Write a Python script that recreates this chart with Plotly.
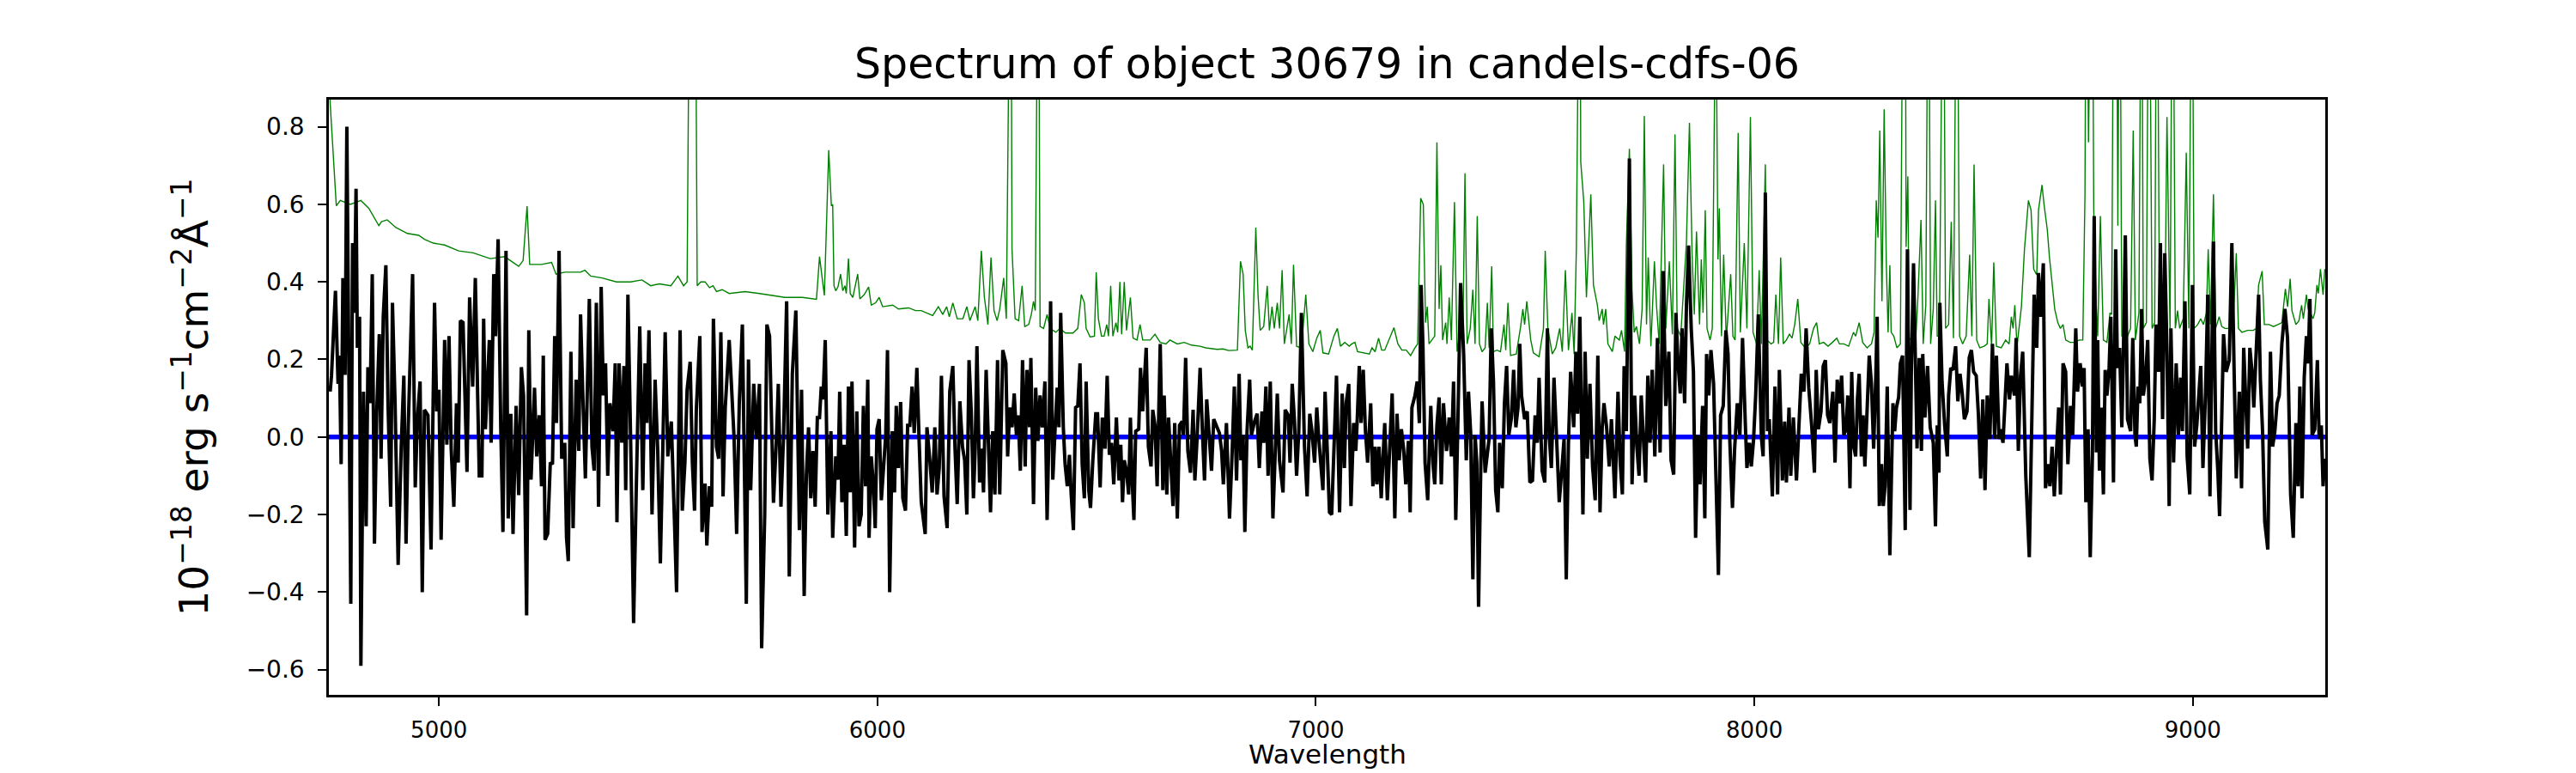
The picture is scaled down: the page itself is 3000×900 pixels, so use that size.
"""
Spectrum of object 30679 in candels-cdfs-06
plotting method: plotly
"""

import plotly.graph_objects as go

# ============================================================================
# DATA
# ============================================================================

# black: extracted 1D flux, 1e-18 erg/s/cm2/A
flux_wave = [
    4752, 4755, 4764, 4770, 4773, 4777, 4781, 4786, 4790, 4794, 4799, 4803, 4807, 4811, 4814, 4819,
    4822, 4828, 4834, 4838, 4843, 4848, 4853, 4858, 4864, 4868, 4873, 4879, 4884, 4890, 4894, 4900,
    4907, 4914, 4920, 4925, 4930, 4940, 4946, 4951, 4957, 4962, 4967, 4975, 4982, 4990, 4995, 5000,
    5005, 5013, 5018, 5023, 5028, 5034, 5040, 5044, 5049, 5055, 5064, 5070, 5077, 5083, 5088, 5092,
    5098, 5102, 5106, 5111, 5115, 5119, 5125, 5129, 5135, 5141, 5146, 5153, 5158, 5164, 5169, 5176,
    5182, 5188, 5193, 5200, 5205, 5210, 5218, 5223, 5229, 5234, 5238, 5242, 5248, 5254, 5259, 5264,
    5268, 5274, 5280, 5287, 5291, 5295, 5301, 5306, 5313, 5319, 5323,
    5329, 5334, 5343, 5349, 5354, 5359, 5364, 5370, 5375, 5380, 5385, 5390, 5397, 5402, 5406, 5411,
    5417, 5422, 5426, 5431, 5437, 5444, 5450, 5458, 5465, 5470, 5474, 5479, 5486, 5493, 5499, 5505,
    5510, 5516, 5522, 5530, 5537, 5542, 5550, 5555, 5561, 5566, 5573, 5578, 5583, 5587, 5595, 5600,
    5607, 5611, 5617, 5622, 5626, 5633, 5638, 5643, 5648, 5653, 5662, 5669, 5673, 5679, 5685, 5692,
    5697, 5701, 5706, 5711, 5718, 5724, 5731, 5736, 5743, 5748, 5754, 5758, 5763, 5770, 5774, 5780,
    5786, 5793, 5799, 5806, 5814, 5822, 5827, 5833, 5838, 5843, 5848, 5853, 5858, 5863, 5868, 5872,
    5876, 5881, 5887, 5894,
    5898, 5905, 5910, 5914, 5919, 5924, 5929, 5934, 5938, 5942, 5948, 5953, 5958, 5963, 5968, 5973,
    5978, 5981, 5986, 5991, 5995, 5999, 6004, 6009, 6014, 6019, 6023, 6028, 6034, 6039, 6043, 6048,
    6053, 6058, 6064, 6069, 6074, 6079, 6084, 6090, 6095, 6100, 6109, 6113, 6120, 6125, 6131, 6136,
    6141, 6146, 6152, 6159, 6165, 6172, 6177, 6182, 6188, 6194, 6199, 6204, 6209, 6214, 6219, 6223,
    6227, 6233, 6237, 6242, 6248, 6253, 6258, 6263, 6268, 6274, 6279, 6286, 6293, 6297, 6302, 6307,
    6312, 6317, 6321, 6326, 6331, 6337, 6341, 6347, 6350, 6356, 6361, 6366, 6371, 6376, 6382, 6387,
    6392, 6395, 6400, 6405, 6410, 6414, 6418, 6424, 6428, 6433, 6438, 6442, 6447, 6452, 6457, 6462,
    6467, 6472,
    6476, 6482, 6486, 6491, 6498, 6502, 6508, 6513, 6519, 6524, 6529, 6534, 6539, 6545, 6551, 6555,
    6559, 6563, 6568, 6573, 6577, 6581, 6585, 6589, 6596, 6600, 6605, 6613, 6618, 6624, 6628, 6633,
    6638, 6645, 6651, 6654, 6660, 6664, 6669, 6674, 6678, 6684, 6689, 6695, 6698, 6703, 6708, 6714,
    6720, 6724, 6729, 6736, 6741, 6746, 6751, 6757, 6762, 6767, 6774, 6780, 6785, 6789, 6796, 6803,
    6809, 6814, 6819, 6825, 6829, 6834, 6838, 6843, 6849, 6853, 6860, 6866, 6871, 6877, 6881, 6886,
    6891, 6896, 6902, 6907, 6912, 6917, 6925, 6930, 6937, 6941, 6946, 6951, 6956, 6961, 6967, 6974,
    6980, 6986, 6991, 6997, 7002, 7006, 7011, 7016, 7021, 7027, 7031, 7036, 7042, 7047,
    7054, 7060, 7065, 7069, 7075, 7080, 7086, 7091, 7094, 7099, 7103, 7108, 7113, 7118, 7125, 7130,
    7135, 7139, 7144, 7149, 7153, 7157, 7163, 7167, 7174, 7180, 7185, 7190, 7195, 7200, 7205, 7211,
    7215, 7219, 7226, 7231, 7236, 7240, 7244, 7249, 7255, 7262, 7267, 7271, 7276, 7281, 7286, 7291,
    7298, 7304, 7309, 7314, 7319, 7324, 7330, 7337, 7343, 7348, 7353, 7358, 7363, 7367, 7371, 7376,
    7379, 7386, 7395, 7400, 7405, 7410, 7415, 7419, 7425, 7430, 7435, 7440, 7446, 7451, 7456, 7461,
    7465, 7469, 7476, 7482, 7488, 7494, 7500, 7505, 7509, 7516, 7522, 7528, 7532, 7537, 7543, 7549,
    7555, 7560, 7566, 7571, 7576, 7581, 7588, 7593, 7597, 7602, 7609, 7614, 7619, 7625,
    7631, 7637, 7643, 7648, 7653, 7657, 7663, 7669, 7674, 7682, 7689, 7694, 7699, 7703, 7708, 7715,
    7721, 7727, 7732, 7737, 7742, 7747, 7752, 7757, 7762, 7767, 7773, 7779, 7785, 7792, 7798, 7805,
    7810, 7816, 7821, 7826, 7831, 7835, 7841, 7845, 7850, 7856, 7861, 7866, 7871, 7876, 7882, 7887,
    7891, 7896, 7901, 7907, 7912, 7918, 7923, 7929, 7935, 7940, 7944, 7950, 7955, 7961, 7967, 7973,
    7979, 7983, 7989, 7993, 7998, 8003, 8009, 8016, 8020, 8025, 8030, 8034, 8041, 8047, 8053, 8057,
    8064, 8069, 8073, 8079, 8083, 8089, 8096, 8101, 8107, 8113, 8118, 8124, 8131, 8137, 8141, 8146,
    8152, 8157, 8162, 8167, 8172, 8179, 8184, 8189, 8194, 8199, 8204,
    8209, 8213, 8218, 8222, 8226, 8231, 8235, 8239, 8244, 8248, 8252, 8257, 8262, 8267, 8272, 8277,
    8280, 8285, 8290, 8294, 8298, 8303, 8309, 8316, 8320, 8324, 8329, 8333, 8338, 8344, 8349, 8355,
    8358, 8363, 8368, 8371, 8376, 8381, 8384, 8389, 8395, 8401, 8408, 8413, 8417, 8421, 8423, 8428,
    8434, 8440, 8443, 8448, 8453, 8459, 8464, 8469, 8474, 8479, 8485, 8490, 8495, 8500, 8506, 8511,
    8516, 8521, 8526, 8531, 8537, 8543, 8548, 8552, 8558, 8562, 8567, 8572, 8576, 8582, 8586, 8593,
    8597, 8602, 8607, 8612, 8619, 8627, 8633, 8638, 8644, 8648, 8653, 8659, 8664, 8670, 8674, 8679,
    8684, 8689, 8694, 8698, 8704, 8710, 8715, 8721, 8726, 8733, 8737, 8743, 8748, 8752, 8756, 8761,
    8766, 8771, 8775, 8780,
    8783, 8787, 8791, 8796, 8800, 8804, 8809, 8813, 8819, 8824, 8828, 8833, 8838, 8841, 8846, 8851,
    8858, 8863, 8868, 8871, 8875, 8879, 8883, 8887, 8892, 8897, 8902, 8907, 8912, 8916, 8922, 8926,
    8931, 8936, 8941, 8946, 8950, 8956, 8962, 8967, 8972, 8976, 8982, 8987, 8993, 8999, 9004, 9009,
    9018, 9023, 9029, 9034, 9039, 9047, 9052, 9057, 9061, 9070, 9076, 9083, 9089, 9094, 9099, 9106,
    9111, 9116, 9120, 9125, 9130, 9135, 9139, 9145, 9150, 9154, 9159, 9164, 9171, 9177, 9182, 9187,
    9192, 9197, 9203, 9210, 9216, 9223, 9229, 9235, 9240, 9244, 9249, 9254, 9259, 9263, 9267, 9272,
    9278, 9284, 9288, 9293, 9297, 9301,
]
flux = [
    0.117, 0.158, 0.377, 0.137, 0.21, -0.07, 0.41, 0.16, 0.80, 0.32, -0.43, 0.50, 0.32, 0.64, 0.23, 0.31,
    -0.59, 0.117, -0.23, 0.18, 0.087, 0.42, -0.275, 0.056, 0.265, -0.056, 0.31, 0.443, 0.08, -0.18, 0.346, 0.087,
    -0.33, -0.025, 0.158, -0.275, 0.025, 0.42, -0.13, 0.046, 0.143, -0.40, 0.07, 0.056, -0.29, 0.346, 0.066, 0.122,
    -0.265, 0.25, -0.02, 0.26, -0.03, -0.18, 0.087, -0.066, 0.30, 0.295, -0.09, 0.36, 0.13, 0.41, 0.076, -0.10,
    -0.10, 0.305, 0.02, 0.163, 0.25, -0.015, 0.42, 0.26, 0.51, 0.025, -0.245, 0.48, -0.21, 0.06, -0.25, 0.08,
    -0.15, 0.18, 0.107, -0.46, 0.275, -0.11, 0.127, -0.05, 0.056, -0.127, 0.21, -0.265, -0.25, -0.066, -0.07, 0.26,
    0.036, 0.48, -0.056, -0.015, -0.26, -0.32, 0.22, -0.235, 0.148, -0.036, 0.316,
    0.076, -0.107, 0.356, -0.025, -0.087, 0.346, -0.18, 0.387, 0.107, 0.19, -0.10, 0.087, 0.015, 0.19, -0.22, 0.19,
    -0.015, 0.183, -0.137, 0.367, 0.005, -0.48, -0.137, 0.285, -0.137, 0.19, 0.036, 0.275, -0.2, 0.148, -0.036, -0.326,
    -0.06, 0.27, -0.05, 0.04, -0.21, -0.40, 0.275, -0.19, -0.066, 0.122, 0.194, -0.066, -0.19, 0.07, 0.26, -0.245,
    -0.12, -0.28, -0.127, -0.18, 0.305, -0.025, -0.056, 0.27, -0.153, 0.076, 0.25, 0.107, 0.0, -0.25, 0.087, 0.29,
    -0.046, -0.43, 0.2, -0.137, 0.137, -0.005, 0.137, -0.545, -0.2, 0.29, 0.26, 0.03, -0.17, 0.005, 0.137, -0.18,
    0.005, 0.35, -0.36, 0.163, 0.326, -0.24, 0.122, -0.41, -0.097, 0.025, -0.158, -0.036, -0.18, 0.05, 0.05, 0.13,
    0.097, 0.25, -0.2, 0.015,
    -0.26, -0.05, -0.11, 0.117, -0.168, -0.02, -0.255, 0.13, -0.143, 0.143, -0.285, 0.066, -0.23, -0.2, 0.08, -0.127,
    0.148, -0.26, -0.05, -0.127, -0.235, 0.02, 0.046, -0.163, -0.07, 0.005, 0.224, -0.40, 0.015, -0.143, 0.08, -0.08,
    0.09, -0.158, -0.19, 0.03, 0.03, 0.13, 0.01, 0.178, -0.005, -0.168, -0.25, 0.025, -0.066, -0.143, 0.025, -0.148,
    -0.08, 0.158, -0.153, -0.235, 0.117, 0.183, -0.03, -0.173, 0.092, -0.025, -0.06, -0.2, 0.198, 0.066, -0.158, -0.03,
    0.234, -0.117, -0.03, -0.143, 0.173, -0.025, -0.194, 0.015, -0.148, 0.198, -0.148, 0.224, 0.19, -0.05, 0.076, 0.025,
    0.112, 0.005, 0.056, -0.087, 0.198, -0.076, 0.173, 0.025, 0.204, -0.173, 0.127, -0.01, 0.107, 0.025, 0.143, -0.214,
    0.05, 0.35, -0.11, 0.015, 0.127, 0.025, 0.32, 0.025, -0.07, -0.127, -0.046, -0.148, -0.24, 0.076, 0.08, 0.19,
    -0.07, -0.158,
    0.143, -0.137, -0.183, -0.066, 0.06, 0.06, -0.13, 0.05, -0.03, 0.158, -0.046, -0.015, -0.122, 0.05, -0.112, -0.02,
    -0.168, -0.06, -0.087, -0.148, 0.05, -0.112, -0.214, 0.015, 0.02, 0.178, 0.066, 0.23, -0.025, -0.076, 0.07, 0.03,
    -0.127, 0.24, -0.137, 0.107, -0.148, 0.05, -0.076, -0.178, 0.036, -0.21, 0.03, 0.04, 0.005, 0.204, -0.036, -0.092,
    0.07, -0.112, -0.005, 0.178, 0.02, -0.112, 0.097, -0.015, -0.087, 0.046, 0.025, 0.01, -0.036, -0.122, 0.036, -0.21,
    -0.04, 0.13, -0.112, 0.163, -0.06, 0.005, -0.245, 0.015, 0.148, 0.005, 0.04, 0.06, -0.08, 0.066, -0.015, 0.13,
    -0.1, 0.143, -0.21, -0.025, 0.112, -0.06, -0.143, 0.07, 0.056, -0.066, 0.137, 0.046, -0.1, 0.015, 0.32, -0.025,
    -0.153, 0.06, 0.015, -0.066, 0.076, 0.005, -0.08, -0.137, 0.117, -0.07, -0.194, -0.2, 0.005, 0.158,
    -0.194, 0.112, -0.08, 0.087, 0.137, -0.178, 0.036, -0.036, 0.036, 0.183, 0.036, 0.173, 0.015, -0.066, 0.087, -0.127,
    -0.025, -0.122, -0.025, -0.158, -0.056, 0.036, -0.163, -0.046, 0.112, -0.21, 0.06, -0.06, 0.02, -0.03, -0.122, -0.01,
    -0.194, 0.076, 0.107, 0.143, 0.036, 0.392, 0.24, -0.066, -0.163, 0.08, -0.07, -0.122, 0.03, 0.102, -0.122, 0.087,
    -0.036, 0.05, -0.05, 0.143, -0.214, 0.046, 0.397, 0.214, -0.06, 0.117, 0.01, -0.367, 0.005, -0.066, -0.438, -0.08,
    0.092, -0.092, -0.005, 0.28, 0.143, -0.137, -0.194, -0.015, -0.132, 0.087, 0.183, 0.005, 0.05, 0.173, 0.025, 0.076,
    0.24, 0.107, 0.046, 0.066, -0.117, -0.112, 0.056, -0.015, 0.153, -0.087, -0.117, 0.28, 0.005, -0.08, 0.153, -0.005,
    -0.168, -0.097, -0.005, -0.367, -0.015, 0.168, 0.025, 0.22, 0.06, 0.31, -0.2, 0.22, -0.056, 0.137,
    -0.076, -0.163, 0.21, -0.194, 0.025, 0.087, 0.025, -0.076, 0.046, -0.158, 0.117, -0.066, -0.148, 0.183, 0.015, 0.718,
    -0.122, 0.107, -0.025, -0.10, 0.107, -0.005, -0.117, 0.158, -0.015, 0.173, -0.05, 0.255, -0.04, 0.428, 0.08, 0.22,
    -0.06, -0.097, 0.32, 0.19, 0.112, 0.28, 0.087, 0.336, 0.494, 0.28, 0.168, -0.26, 0.005, -0.122, 0.08, -0.21,
    0.214, 0.107, 0.224, 0.137, -0.066, -0.356, 0.056, 0.08, 0.275, 0.214, -0.01, -0.183, -0.03, 0.087, 0.005, 0.255,
    0.046, -0.08, -0.015, -0.076, -0.01, 0.107, 0.316, 0.0, -0.05, 0.63, 0.015, 0.046, -0.153, 0.13, -0.148, 0.173,
    -0.112, 0.04, -0.117, 0.076, -0.1, 0.05, -0.112, 0.005, 0.163, 0.117, 0.28, 0.127, 0.025, -0.092, 0.173, 0.02,
    0.066, 0.183, 0.198, 0.056, 0.036, 0.117, -0.066, 0.148, 0.087, 0.158, 0.005,
    0.02, 0.107, -0.132, 0.168, -0.02, -0.05, 0.097, 0.163, -0.05, 0.056, -0.076, 0.087, 0.21, 0.137, -0.03, 0.158,
    0.31, -0.178, -0.07, -0.178, -0.127, 0.13, -0.305, 0.087, 0.015, 0.076, 0.102, 0.19, 0.21, -0.24, 0.484, -0.188,
    0.168, 0.448, 0.076, -0.03, 0.204, -0.036, 0.214, 0.05, 0.183, 0.025, -0.015, -0.23, 0.03, -0.092, 0.346, 0.143,
    0.03, -0.05, 0.107, 0.178, 0.173, 0.234, 0.092, 0.163, 0.112, 0.046, 0.066, 0.204, 0.224, 0.168, 0.158, 0.056,
    -0.107, 0.097, -0.137, 0.107, -0.005, 0.24, -0.005, 0.21, -0.005, 0.02, -0.015, 0.117, 0.19, 0.097, 0.158, 0.107,
    0.255, -0.036, 0.158, 0.22, -0.10, -0.31, 0.076, 0.367, 0.23, 0.423, 0.31, 0.448, -0.132, -0.07, -0.127, -0.025,
    -0.153, -0.056, 0.076, -0.148, 0.19, 0.168, -0.07, 0.08, 0.005, 0.28, 0.117, 0.19, 0.13, 0.178, -0.168, 0.02,
    -0.31, -0.046, 0.57, -0.04,
    0.25, -0.087, 0.076, -0.148, 0.173, 0.107, 0.178, 0.31, -0.117, 0.484, 0.178, 0.23, 0.025, 0.178, 0.52, 0.046,
    0.015, 0.255, 0.005, -0.025, 0.13, 0.087, 0.33, 0.107, 0.148, 0.25, -0.056, -0.112, 0.046, 0.29, 0.168, 0.50,
    0.046, 0.474, 0.22, -0.178, 0.28, -0.066, 0.19, 0.005, 0.153, 0.015, 0.35, -0.05, -0.148, 0.392, -0.025, 0.03,
    0.183, -0.08, 0.117, 0.367, -0.153, 0.504, 0.015, -0.087, -0.204, 0.265, 0.168, 0.198, 0.50, 0.178, -0.107, 0.117,
    -0.132, 0.23, 0.107, -0.03, 0.23, 0.168, 0.076, 0.24, 0.367, 0.148, 0.015, -0.219, -0.29, 0.22, -0.025, 0.015,
    0.087, 0.107, 0.24, 0.33, 0.255, -0.148, -0.26, 0.036, -0.127, 0.13, -0.158, 0.153, 0.26, 0.19, 0.356, 0.005,
    0.02, 0.198, -0.005, 0.03, -0.127, -0.056,
]

# green: noise spectrum (sky lines run off the top of the frame)
noise_wave = [
    4749, 4752, 4766, 4775, 4798, 4822, 4840, 4856, 4863, 4869, 4882, 4902, 4928, 4954, 4967, 4987,
    5013, 5045, 5078, 5117, 5150, 5182, 5192, 5201, 5207, 5234, 5257, 5267, 5287, 5323,
    5333, 5346, 5372, 5405, 5437, 5463, 5483, 5503, 5529, 5545, 5558, 5566, 5573, 5584, 5589, 5597,
    5607, 5617, 5625, 5633, 5646, 5662, 5698, 5731, 5763, 5789, 5829, 5861, 5868, 5879, 5889,
    5895, 5898, 5901, 5905, 5910, 5916, 5921, 5926, 5929, 5934, 5938, 5944, 5948, 5955, 5960, 5970,
    5980, 5986, 5996, 6004, 6012, 6035, 6048, 6071, 6087, 6100, 6126, 6139, 6149, 6158, 6164, 6172,
    6182, 6195, 6204, 6211, 6223, 6229, 6237, 6244, 6252, 6259, 6266, 6273, 6279, 6288, 6294, 6297,
    6304, 6307, 6314, 6322, 6330, 6336, 6345, 6351, 6356, 6360, 6362, 6367, 6371, 6379, 6387, 6394,
    6407, 6416, 6429, 6446, 6457, 6465, 6472,
    6476, 6485, 6495, 6499, 6504, 6511, 6517, 6523, 6527, 6532, 6537, 6544, 6548, 6553, 6557, 6563,
    6568, 6577, 6583, 6592, 6599, 6605, 6622, 6633, 6645, 6658, 6667, 6684, 6700, 6716, 6736, 6749,
    6775, 6788, 6801, 6821, 6828, 6834, 6839, 6845, 6850, 6855, 6863, 6868, 6873, 6881, 6889, 6894,
    6900, 6905, 6912, 6917, 6923, 6928, 6933, 6939, 6944, 6949, 6956, 6967, 6977, 6984, 6993, 7002,
    7010, 7016, 7029, 7041, 7049,
    7056, 7066, 7076, 7082, 7089, 7095, 7108, 7122, 7128, 7135, 7143, 7150, 7157, 7167, 7178, 7187,
    7196, 7206, 7216, 7226, 7232, 7239, 7245, 7250, 7254, 7258, 7267, 7271, 7276, 7281, 7285, 7289,
    7296, 7299, 7304, 7309, 7316, 7322, 7330, 7335, 7340, 7345, 7352, 7358, 7363, 7368, 7373, 7379,
    7386, 7391, 7395, 7401, 7405, 7413, 7421, 7429, 7433, 7438, 7444, 7457, 7467, 7472, 7476, 7481,
    7490, 7496, 7509, 7519, 7523, 7529, 7539, 7547, 7556, 7562, 7569, 7576, 7584, 7589, 7594, 7597,
    7602, 7604, 7611, 7617,
    7627, 7633, 7642, 7646, 7653, 7656, 7661, 7666, 7676, 7682, 7692, 7697, 7704, 7708, 7715, 7721,
    7726, 7731, 7738, 7744, 7749, 7754, 7758, 7764, 7772, 7777, 7783, 7793, 7798, 7806, 7813, 7819,
    7824, 7832, 7840, 7845, 7852, 7858, 7863, 7868, 7875, 7879, 7883, 7888, 7892, 7899, 7904, 7912,
    7917, 7920, 7925, 7930, 7936, 7946, 7951, 7956, 7963, 7968, 7977, 7983, 7991, 7997, 8005, 8011,
    8016, 8025, 8029, 8038, 8044, 8049, 8055, 8060, 8066, 8073, 8080, 8086, 8092, 8099, 8106, 8116,
    8126, 8135, 8142, 8148, 8158, 8168, 8178, 8188, 8194, 8204,
    8215, 8226, 8231, 8239, 8247, 8257, 8267, 8273, 8278, 8282, 8286, 8291, 8296, 8301, 8305, 8309,
    8312, 8318, 8325, 8333, 8340, 8344, 8346, 8350, 8353, 8361, 8368, 8373, 8380, 8385, 8391, 8397,
    8402, 8408, 8413, 8417, 8422, 8427, 8431, 8436, 8443, 8449, 8454, 8462, 8468, 8475, 8483, 8491,
    8496, 8501, 8507, 8514, 8524, 8531, 8535, 8541, 8546, 8552, 8563, 8573, 8581, 8586, 8590, 8594,
    8599, 8609, 8616, 8625, 8631, 8637, 8644, 8648, 8656, 8661, 8668, 8673, 8679, 8685, 8692, 8698,
    8704, 8710, 8720, 8730, 8741, 8749, 8754, 8757, 8762, 8765, 8770, 8774, 8779,
    8783, 8789, 8796, 8804, 8811, 8815, 8820, 8825, 8829, 8833, 8838, 8845, 8851, 8858, 8864, 8869,
    8877, 8883, 8887, 8894, 8900, 8907, 8913, 8918, 8924, 8931, 8936, 8941, 8948, 8954, 8960, 8965,
    8970, 8978, 8985, 8991, 8998, 9003, 9011, 9018, 9024, 9031, 9035, 9040, 9047, 9052, 9060, 9066,
    9073, 9085, 9092, 9099, 9104, 9112, 9125, 9138, 9145, 9150, 9158, 9163, 9174, 9184, 9194, 9203,
    9211, 9216, 9222, 9226, 9235, 9242, 9248, 9252, 9259, 9263, 9268, 9274, 9278, 9283, 9286, 9291,
    9297, 9301,
]
noise = [
    1.0, 0.86, 0.596, 0.61, 0.60, 0.61, 0.59, 0.56, 0.545, 0.555, 0.56, 0.54, 0.525, 0.52, 0.51, 0.50,
    0.495, 0.48, 0.475, 0.46, 0.465, 0.44, 0.455, 0.595, 0.445, 0.445, 0.45, 0.42, 0.425, 0.425,
    0.43, 0.415, 0.41, 0.40, 0.40, 0.405, 0.39, 0.395, 0.39, 0.415, 0.39, 0.40, 1.5, 1.5, 0.39, 0.40,
    0.40, 0.385, 0.39, 0.375, 0.38, 0.37, 0.375, 0.37, 0.365, 0.36, 0.36, 0.355, 0.465, 0.365, 0.74,
    0.596, 0.60, 0.39, 0.377, 0.387, 0.42, 0.377, 0.39, 0.37, 0.46, 0.37, 0.36, 0.38, 0.42, 0.356, 0.367,
    0.387, 0.34, 0.346, 0.36, 0.336, 0.34, 0.33, 0.333, 0.326, 0.326, 0.313, 0.336, 0.316, 0.336, 0.31, 0.346,
    0.305, 0.305, 0.336, 0.30, 0.336, 0.30, 0.48, 0.36, 0.29, 0.463, 0.326, 0.30, 0.33, 0.41, 0.305, 1.5,
    1.5, 0.484, 0.305, 0.30, 0.39, 0.285, 0.29, 0.316, 0.35, 0.326, 1.5, 1.5, 0.285, 0.28, 0.316, 0.28,
    0.27, 0.28, 0.268, 0.268, 0.28, 0.367, 0.346,
    0.28, 0.258, 0.26, 0.425, 0.305, 0.26, 0.26, 0.29, 0.26, 0.39, 0.26, 0.295, 0.27, 0.40, 0.265, 0.40,
    0.275, 0.36, 0.255, 0.25, 0.29, 0.25, 0.25, 0.265, 0.244, 0.24, 0.25, 0.24, 0.244, 0.237, 0.234, 0.23,
    0.226, 0.227, 0.223, 0.224, 0.453, 0.42, 0.275, 0.23, 0.234, 0.224, 0.54, 0.367, 0.275, 0.285, 0.39, 0.275,
    0.336, 0.28, 0.346, 0.28, 0.43, 0.24, 0.275, 0.316, 0.24, 0.444, 0.234, 0.23, 0.367, 0.24, 0.22, 0.255,
    0.275, 0.217, 0.214, 0.26, 0.28,
    0.234, 0.244, 0.234, 0.24, 0.244, 0.22, 0.217, 0.214, 0.23, 0.22, 0.255, 0.224, 0.224, 0.25, 0.282, 0.24,
    0.224, 0.224, 0.21, 0.23, 0.24, 0.616, 0.60, 0.295, 0.336, 0.24, 0.255, 0.26, 0.76, 0.33, 0.443, 0.25,
    0.295, 0.24, 0.36, 0.25, 0.606, 0.22, 0.28, 0.24, 0.68, 0.24, 0.28, 0.38, 0.24, 0.57, 0.24, 0.22,
    0.23, 0.346, 0.23, 0.44, 0.22, 0.224, 0.22, 0.29, 0.224, 0.346, 0.21, 0.214, 0.285, 0.33, 0.29, 0.35,
    0.25, 0.217, 0.207, 0.28, 0.48, 0.28, 0.214, 0.23, 0.28, 0.22, 0.43, 0.224, 0.32, 0.214, 0.484, 1.5,
    1.5, 0.71, 0.606, 0.36,
    0.626, 0.392, 0.34, 0.30, 0.33, 0.29, 0.33, 0.24, 0.22, 0.26, 0.25, 0.275, 0.22, 0.494, 0.743, 0.38,
    0.27, 0.285, 0.24, 0.33, 0.828, 0.29, 0.463, 0.234, 0.453, 0.336, 0.24, 0.703, 0.28, 0.453, 0.265, 0.78,
    0.28, 0.26, 0.42, 0.50, 0.81, 0.47, 0.316, 0.53, 0.29, 0.458, 0.32, 0.585, 0.28, 0.25, 0.28, 1.2,
    0.458, 0.59, 0.26, 0.47, 0.25, 0.42, 0.26, 0.25, 0.784, 0.27, 0.50, 0.28, 0.825, 0.27, 0.24, 0.43,
    0.24, 0.703, 0.25, 0.24, 0.244, 0.367, 0.24, 0.463, 0.24, 0.25, 0.265, 0.255, 0.29, 0.356, 0.244, 0.23,
    0.24, 0.28, 0.295, 0.24, 0.244, 0.234, 0.244, 0.255, 0.24, 0.24,
    0.234, 0.27, 0.26, 0.295, 0.244, 0.23, 0.24, 0.27, 0.61, 0.514, 0.79, 0.35, 0.845, 0.443, 0.27, 0.443,
    0.27, 0.26, 0.23, 0.24, 1.5, 1.5, 0.49, 0.672, 0.25, 0.26, 0.25, 0.36, 0.56, 0.24, 0.34, 1.5,
    0.24, 0.33, 0.61, 0.26, 0.26, 1.5, 1.5, 0.28, 0.29, 0.555, 0.255, 1.5, 0.26, 0.24, 0.26, 0.47,
    0.26, 0.703, 0.25, 0.23, 0.234, 0.24, 0.356, 0.234, 0.45, 0.234, 0.23, 0.25, 0.24, 0.31, 0.28, 0.34,
    0.234, 0.336, 0.484, 0.61, 0.585, 0.433, 0.418, 0.585, 0.65, 0.596, 0.535, 0.463, 0.392, 0.33, 0.295, 0.28,
    0.29, 0.25, 0.244, 0.244, 0.25, 0.25, 0.626, 1.5, 0.76, 1.5, 1.5, 0.585, 0.36,
    0.26, 0.57, 0.25, 0.244, 0.32, 0.316, 1.5, 1.5, 0.545, 1.5, 0.26, 0.265, 0.26, 0.28, 0.79, 0.25,
    0.32, 1.5, 0.28, 0.295, 1.5, 0.28, 0.295, 1.5, 0.29, 0.30, 0.285, 0.825, 0.27, 1.5, 0.28, 0.326,
    0.28, 0.305, 0.733, 0.28, 1.5, 0.28, 0.29, 0.305, 0.29, 0.32, 0.484, 0.29, 0.626, 0.28, 0.31, 0.285,
    0.28, 0.28, 0.29, 0.474, 0.28, 0.27, 0.275, 0.275, 0.28, 0.392, 0.428, 0.29, 0.29, 0.285, 0.29, 0.295,
    0.382, 0.336, 0.408, 0.326, 0.29, 0.30, 0.34, 0.305, 0.367, 0.33, 0.32, 0.305, 0.32, 0.392, 0.37, 0.433,
    0.367, 0.433,
]

# blue: zero level across the whole wavelength range
zero_wave = [4749, 9302]
zero_level = [0.0, 0.0]

x_tickvals = [5000, 6000, 7000, 8000, 9000]
x_ticktext = ["5000", "6000", "7000", "8000", "9000"]
y_tickvals = [-0.6, -0.4, -0.2, 0.0, 0.2, 0.4, 0.6, 0.8]
y_ticktext = ["\u22120.6", "\u22120.4", "\u22120.2", "0.0", "0.2", "0.4", "0.6", "0.8"]

title_text = "Spectrum of object 30679 in candels-cdfs-06"
xlabel_text = "Wavelength"
ylabel_text = ("10<sup>\u221218</sup> erg s<sup>\u22121</sup>cm<sup>\u22122</sup>"
               "\u00c5<sup>\u22121</sup>")


def make_figure():
    fig = go.Figure()

    # zero line first so the spectra sit on top of it
    fig.add_trace(go.Scatter(x=zero_wave, y=zero_level, mode='lines',
                             line=dict(color='#0000ff', width=5.5), hoverinfo='skip'))
    fig.add_trace(go.Scatter(x=noise_wave, y=noise, mode='lines',
                             line=dict(color='#008000', width=1.4), name='noise'))
    fig.add_trace(go.Scatter(x=flux_wave, y=flux, mode='lines',
                             line=dict(color='#000000', width=4), name='flux'))

    axis_style = dict(showgrid=False, zeroline=False, showline=True, mirror=True,
                      linecolor='black', linewidth=2.5, ticks='outside', ticklen=10,
                      tickwidth=2.2, tickcolor='black')

    fig.update_xaxes(range=[4749, 9302], tickvals=x_tickvals, ticktext=x_ticktext,
                     tickfont=dict(size=26, color='black'), ticklabelstandoff=6, **axis_style)
    fig.update_yaxes(range=[-0.665, 0.870], tickvals=y_tickvals, ticktext=y_ticktext,
                     tickfont=dict(size=28, color='black'), ticklabelstandoff=10, **axis_style)

    # axis labels as annotations (matplotlib-like placement)
    fig.add_annotation(text=xlabel_text, xref='paper', yref='paper', x=0.5, y=-0.1,
                       xanchor='center', yanchor='middle', showarrow=False,
                       font=dict(size=31, color='black'))
    fig.add_annotation(text=ylabel_text, xref='paper', yref='paper', x=-0.0692, y=0.5,
                       xanchor='center', yanchor='middle', textangle=-90, showarrow=False,
                       font=dict(size=47, color='black'))

    fig.update_layout(
        title=dict(text=title_text, x=0.5, xref='paper', xanchor='center',
                   y=1 - 66 / 900, yref='container', yanchor='middle',
                   font=dict(size=49, color='black')),
        width=3000, height=900,
        margin=dict(l=375, r=300, t=108, b=99),
        paper_bgcolor='white', plot_bgcolor='white',
        font=dict(family='DejaVu Sans', color='black'),
        showlegend=False,
    )
    return fig


if __name__ == "__main__":
    fig = make_figure()
    fig.write_html("out.html")
